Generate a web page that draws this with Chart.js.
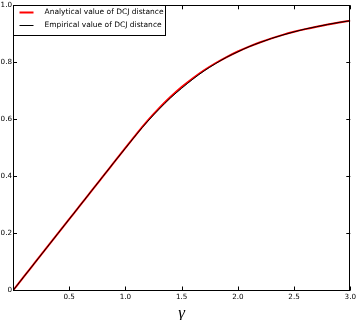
<!DOCTYPE html>
<html>
<head>
<meta charset="utf-8">
<script src="https://cdn.jsdelivr.net/npm/chart.js@4.4.1/dist/chart.umd.min.js"></script>
<style>
  html, body { margin: 0; padding: 0; background: #fff; }
  #wrap { position: relative; width: 358px; height: 320px; }
</style>
</head>
<body>
<div id="wrap"><canvas id="myLineChart"></canvas></div>
<script>
// gamma values (x axis)
const gammaValues = [
  0.0, 0.1, 0.2, 0.3, 0.4, 0.5, 0.6, 0.7, 0.8, 0.9, 1.0,
  1.1, 1.2, 1.3, 1.4, 1.5, 1.6, 1.7, 1.8, 1.9, 2.0,
  2.1, 2.2, 2.3, 2.4, 2.5, 2.6, 2.7, 2.8, 2.9, 3.0,
];

// Analytical value of DCJ distance (red)
const analyticalValues = [
  0.0, 0.05, 0.1, 0.15, 0.2, 0.25, 0.3, 0.35, 0.4, 0.45, 0.5,
  0.5495, 0.5965, 0.6394, 0.6784, 0.7135, 0.7445, 0.7723, 0.7969, 0.8187, 0.8381,
  0.8553, 0.8706, 0.8842, 0.8963, 0.907, 0.9166, 0.9252, 0.9328, 0.9397, 0.9458,
];

// Empirical value of DCJ distance (black)
const empiricalValues = [
  0.0, 0.05, 0.1, 0.15, 0.2, 0.25, 0.3, 0.35, 0.4, 0.45, 0.499,
  0.548, 0.594, 0.636, 0.675, 0.709, 0.741, 0.770, 0.795, 0.818, 0.837,
  0.855, 0.870, 0.884, 0.896, 0.907, 0.917, 0.925, 0.933, 0.940, 0.946,
];

const seriesLabels = ["Analytical value of DCJ distance", "Empirical value of DCJ distance"];
const xTickValues = [0.5, 1.0, 1.5, 2.0, 2.5, 3.0];
const yTickValues = [0.2, 0.4, 0.6, 0.8, 1.0];

// Frame, inward ticks and legend box like matplotlib
const framePlugin = {
  id: "frame",
  afterDraw(chart) {
    const { ctx, chartArea: a, scales } = chart;
    ctx.save();
    ctx.strokeStyle = "#000";
    ctx.lineWidth = 1;
    // box
    ctx.beginPath();
    ctx.moveTo(Math.round(a.left) + 0.5, a.bottom);
    ctx.lineTo(Math.round(a.left) + 0.5, Math.round(a.top) + 0.5);
    ctx.lineTo(Math.round(a.right) - 0.5, Math.round(a.top) + 0.5);
    ctx.lineTo(Math.round(a.right) - 0.5, a.bottom);
    ctx.stroke();
    ctx.beginPath();
    ctx.moveTo(a.left, a.bottom);
    ctx.lineTo(a.right, a.bottom);
    ctx.stroke();

    // ticks
    const tl = 4;
    ctx.beginPath();
    xTickValues.forEach((v) => {
      const px = Math.round(scales.x.getPixelForValue(v)) + 0.5;
      ctx.moveTo(px, a.bottom);
      ctx.lineTo(px, a.bottom - tl);
      ctx.moveTo(px, a.top);
      ctx.lineTo(px, a.top + tl);
    });
    yTickValues.forEach((v) => {
      const py = Math.round(scales.y.getPixelForValue(v)) + 0.5;
      ctx.moveTo(a.left, py);
      ctx.lineTo(a.left + tl, py);
      ctx.moveTo(a.right, py);
      ctx.lineTo(a.right - tl, py);
    });
    ctx.stroke();

    // legend
    const lx = Math.round(a.left) + 0.5;
    const ly = Math.round(a.top) + 0.5;
    ctx.fillStyle = "#fff";
    ctx.fillRect(lx, ly, 152, 30);
    ctx.strokeRect(lx, ly, 152, 30);
    ctx.font = "7.5px 'DejaVu Sans'";
    ctx.textBaseline = "middle";
    chart.data.datasets.forEach((ds, i) => {
      const yy = ly + 7 + i * 13;
      ctx.strokeStyle = ds.borderColor;
      ctx.lineWidth = ds.borderWidth;
      ctx.beginPath();
      ctx.moveTo(lx + 6, yy);
      ctx.lineTo(lx + 20, yy);
      ctx.stroke();
      ctx.fillStyle = "#000";
      ctx.fillText(ds.label, lx + 31, yy);
    });
    ctx.restore();
  },
};

const lineCtx = document.getElementById("myLineChart").getContext("2d");
const myLineChart = new Chart(lineCtx, {
  type: "line",
  data: {
    datasets: [
      {
        label: seriesLabels[0],
        data: gammaValues.map((g, i) => ({ x: g, y: analyticalValues[i] })),
        borderColor: "#ff0000",
        borderWidth: 2,
        pointRadius: 0,
        cubicInterpolationMode: "monotone",
        order: 1,
      },
      {
        label: seriesLabels[1],
        data: gammaValues.map((g, i) => ({ x: g, y: empiricalValues[i] })),
        borderColor: "#000000",
        borderWidth: 1,
        pointRadius: 0,
        cubicInterpolationMode: "monotone",
        order: 0,
      },
    ],
  },
  options: {
    responsive: true,
    maintainAspectRatio: false,
    animation: false,
    layout: { padding: { top: 3, right: 6, left: 0, bottom: 0 } },
    plugins: { legend: { display: false }, tooltip: { enabled: false } },
    scales: {
      x: {
        type: "linear",
        min: 0,
        max: 3,
        grid: { display: false, drawTicks: false, tickLength: 0 },
        border: { display: false },
        ticks: {
          stepSize: 0.5,
          padding: 2,
          maxRotation: 0,
          color: "#000",
          font: { family: "DejaVu Sans", size: 7.2 },
          callback: (v) => (v === 0 ? "" : v.toFixed(1)),
        },
        title: {
          display: true,
          text: "γ",
          color: "#000",
          padding: { top: 0, bottom: -4 },
          font: { family: "Liberation Serif", size: 17, style: "italic" },
        },
        afterFit: (scale) => { scale.height = 29.5; },
      },
      y: {
        min: 0,
        max: 1,
        grid: { display: false, drawTicks: false, tickLength: 0 },
        border: { display: false },
        ticks: {
          stepSize: 0.2,
          padding: 1,
          color: "#000",
          font: { family: "DejaVu Sans", size: 7.2 },
          callback: (v) => (v === 0 ? "0" : v.toFixed(1)),
        },
        afterFit: (scale) => { scale.width = 13; },
      },
    },
  },
  plugins: [framePlugin],
});
</script>
</body>
</html>
